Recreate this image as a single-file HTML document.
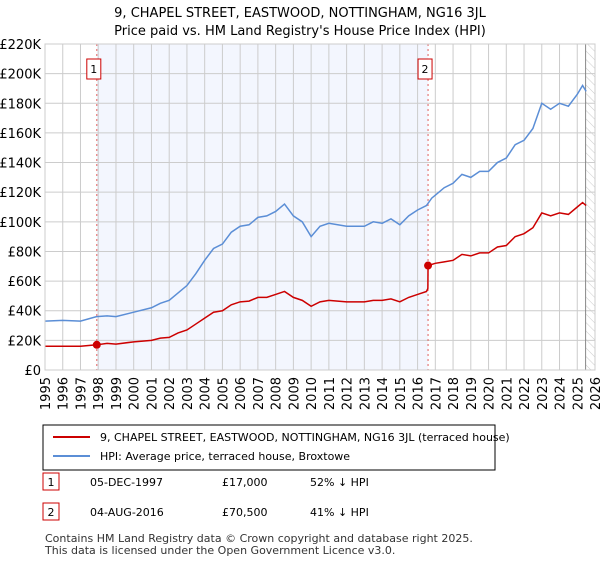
<!DOCTYPE html>
<html><head><meta charset="utf-8"><style>
body{margin:0;background:#fff;font-family:"Liberation Sans","DejaVu Sans",sans-serif;}
svg text{font-family:"DejaVu Sans","Liberation Sans",sans-serif;}
</style></head><body>
<svg id="c" width="600" height="560" xmlns="http://www.w3.org/2000/svg">
<defs><pattern id="hatch" width="6" height="6" patternUnits="userSpaceOnUse" patternTransform="rotate(-45)"><line x1="0" y1="0" x2="0" y2="6" stroke="#ccc" stroke-width="1"/></pattern></defs>
<text x="300" y="17" text-anchor="middle" font-size="13">9, CHAPEL STREET, EASTWOOD, NOTTINGHAM, NG16 3JL</text>
<text x="300" y="35" text-anchor="middle" font-size="13">Price paid vs. HM Land Registry's House Price Index (HPI)</text>
<g id="plot"></g>
<rect x="43" y="425" width="452" height="45" fill="#fff" stroke="#000"/>
<line x1="53" y1="437" x2="90" y2="437" stroke="#cc0000" stroke-width="2"/>
<text x="100" y="441" font-size="11">9, CHAPEL STREET, EASTWOOD, NOTTINGHAM, NG16 3JL (terraced house)</text>
<line x1="53" y1="456" x2="90" y2="456" stroke="#5b8ed6" stroke-width="2"/>
<text x="100" y="460" font-size="11">HPI: Average price, terraced house, Broxtowe</text>
<g font-size="11">
<rect x="43" y="473" width="16" height="17" fill="#fff" stroke="#cc0000"/><text x="51" y="486" text-anchor="middle">1</text>
<text x="90" y="486">05-DEC-1997</text><text x="222" y="486">£17,000</text><text x="310" y="486">52% ↓ HPI</text>
<rect x="43" y="503" width="16" height="17" fill="#fff" stroke="#cc0000"/><text x="51" y="516" text-anchor="middle">2</text>
<text x="90" y="516">04-AUG-2016</text><text x="222" y="516">£70,500</text><text x="310" y="516">41% ↓ HPI</text>
</g>
<text x="45" y="542" font-size="11" fill="#333">Contains HM Land Registry data © Crown copyright and database right 2025.</text>
<text x="45" y="554" font-size="11" fill="#333">This data is licensed under the Open Government Licence v3.0.</text>
</svg>
<script>
const yTicks=[0,20,40,60,80,100,120,140,160,180,200,220];
const xYears=[1995,1996,1997,1998,1999,2000,2001,2002,2003,2004,2005,2006,2007,2008,2009,2010,2011,2012,2013,2014,2015,2016,2017,2018,2019,2020,2021,2022,2023,2024,2025,2026];
const hpiT=[1995,1996,1997,1997.9,1998.5,1999,2000,2001,2001.5,2002,2002.5,2003,2003.5,2004,2004.5,2005,2005.5,2006,2006.5,2007,2007.5,2008,2008.5,2009,2009.5,2010,2010.5,2011,2012,2013,2013.5,2014,2014.5,2015,2015.5,2016,2016.5,2016.8,2017,2017.5,2018,2018.5,2019,2019.5,2020,2020.5,2021,2021.5,2022,2022.5,2023,2023.5,2024,2024.5,2025,2025.3,2025.5];
const hpiV=[33,33.5,33,36,36.5,36,39,42,45,47,52,57,65,74,82,85,93,97,98,103,104,107,112,104,100,90,97,99,97,97,100,99,102,98,104,108,111,116,118,123,126,132,130,134,134,140,143,152,155,163,180,176,180,178,186,192,188];
const priceT=[1995,1996,1997,1997.92,1998.5,1999,2000,2001,2001.5,2002,2002.5,2003,2003.5,2004,2004.5,2005,2005.5,2006,2006.5,2007,2007.5,2008,2008.5,2009,2009.5,2010,2010.5,2011,2012,2013,2013.5,2014,2014.5,2015,2015.5,2016,2016.5,2016.58,2016.59,2017,2017.5,2018,2018.5,2019,2019.5,2020,2020.5,2021,2021.5,2022,2022.5,2023,2023.5,2024,2024.5,2025,2025.3,2025.5];
const priceV=[16,16,16,17,18,17.5,19,20,21.5,22,25,27,31,35,39,40,44,46,46.5,49,49,51,53,49,47,43,46,47,46,46,47,47,48,46,49,51,53,55,70.5,72,73,74,78,77,79,79,83,84,90,92,96,106,104,106,105,110,113,111];
const saleT=[1997.92,2016.59];
const saleV=[17,70.5];
const saleLabels=["1","2"];
const X0=45,X1=595,Y0=370,Y1=44;
const xs=t=>X0+(t-1995)/(2026-1995)*(X1-X0);
const ys=v=>Y0-v/220*(Y0-Y1);
const NS="http://www.w3.org/2000/svg";
const g=document.getElementById('plot');
function el(n,a){const e=document.createElementNS(NS,n);for(const k in a)e.setAttribute(k,a[k]);g.appendChild(e);return e;}
const sh=el('rect',{x:xs(saleT[0]),y:Y1,width:xs(saleT[1])-xs(saleT[0]),height:Y0-Y1,fill:'#f3f6fe'});


const ht=el('rect',{x:xs(2025.47),y:Y1,width:X1-xs(2025.47),height:Y0-Y1,fill:'url(#hatch)'});


yTicks.forEach(v=>{
 el('line',{x1:X0,x2:X1,y1:ys(v),y2:ys(v),stroke:'#ccc'});
 const t=el('text',{x:X0-4,y:ys(v)+5,'text-anchor':'end','font-size':13});t.textContent=v===0?'£0':'£'+v+'K';
 
 
});
xYears.forEach(y=>{
 el('line',{x1:xs(y),x2:xs(y),y1:Y1,y2:Y0,stroke:'#ccc'});
 const t=el('text',{x:0,y:0,'text-anchor':'end','font-size':13,transform:`translate(${xs(y)+5},${Y0+7}) rotate(-90)`});t.textContent=y;
 
 
});
el('line',{x1:xs(2025.47),x2:xs(2025.47),y1:Y1,y2:Y0,stroke:'#888'});
saleT.forEach((t,i)=>{
 const l=el('line',{x1:xs(t),x2:xs(t),y1:Y1,y2:Y0,stroke:'#e06060','stroke-dasharray':'2,3'});
 
 
 el('rect',{x:xs(t)-10,y:59,width:14,height:20,fill:'#fff',stroke:'#cc0000'});
 const tx=el('text',{x:xs(t)-3,y:73,'text-anchor':'middle','font-size':11});tx.textContent=saleLabels[i];
 
 
});
const hp=el('polyline',{points:hpiT.map((t,i)=>xs(t)+','+ys(hpiV[i])).join(' '),fill:'none',stroke:'#5b8ed6','stroke-width':1.5});


const pp=el('polyline',{points:priceT.map((t,i)=>xs(t)+','+ys(priceV[i])).join(' '),fill:'none',stroke:'#cc0000','stroke-width':1.5});


saleT.forEach((t,i)=>{
 const d=el('circle',{cx:xs(t),cy:ys(saleV[i]),r:4,fill:'#cc0000'});
 
 
});
el('rect',{x:X0,y:Y1,width:X1-X0,height:Y0-Y1,fill:'none',stroke:'#ccc'});
</script>
</body></html>
